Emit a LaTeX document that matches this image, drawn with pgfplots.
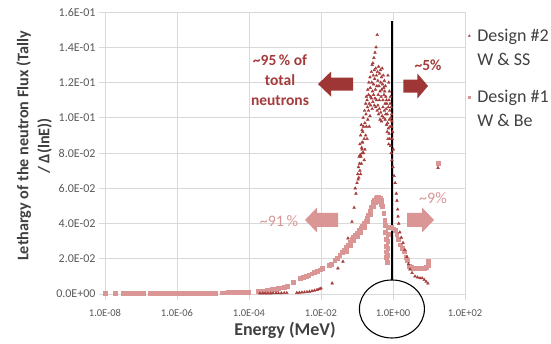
\documentclass[border=0pt]{standalone}
\usepackage{pgfplots}
\pgfplotsset{compat=1.18}
\usepackage{fontspec}
\setmainfont{Carlito}
\definecolor{dkred}{HTML}{A53B3B}
\definecolor{ltred}{HTML}{D99694}
\definecolor{dkarrow}{HTML}{9E3636}
\definecolor{gridc}{HTML}{D9D9D9}
\definecolor{tickc}{HTML}{595959}
\definecolor{labc}{HTML}{404040}
\begin{document}
\begin{tikzpicture}
\begin{axis}[
  at={(0,0)}, anchor=south west,
  scale only axis, width=360pt, height=282pt,
  xmin=-8, xmax=2, ymin=0, ymax=0.16,
  xtick={-8,-6,-4,-2,0,2},
  xticklabels={1.0E-08,1.0E-06,1.0E-04,1.0E-02,1.0E+00,1.0E+02},
  ytick={0,0.02,0.04,0.06,0.08,0.10,0.12,0.14,0.16},
  yticklabels={0.0E+00,2.0E-02,4.0E-02,6.0E-02,8.0E-02,1.0E-01,1.2E-01,1.4E-01,1.6E-01},
  grid=major, major grid style={gridc, line width=0.8pt},
  axis line style={gridc, line width=0.8pt},
  tick style={gridc, line width=0.8pt}, tick align=outside, major tick length=6pt,
  xtick pos=bottom, ytick pos=left,
  ticklabel style={text=tickc},
  xticklabel style={font=\fontsize{10.5}{12}\selectfont, yshift=-6pt},
  yticklabel style={font=\fontsize{12}{14}\selectfont},
  xlabel={Energy (MeV)},
  xlabel style={font=\bfseries\fontsize{18}{20}\selectfont, text=labc, at={(axis description cs:0.5,-0.128)}, anchor=center},
  ylabel={Lethargy of the neutron Flux (Tally\\/ Δ(lnE))},
  ylabel style={align=center, font=\bfseries\fontsize{16.2}{21}\selectfont, text=labc, at={(axis description cs:-0.197,0.525)}, anchor=center},
  clip=false,
  legend style={at={(axis description cs:1.0,0.955)}, anchor=north west, draw=none, fill=none,
    font=\fontsize{18}{21}\selectfont, text=labc, row sep=6pt, column sep=5pt},
  legend cell align=left,
  legend image code/.code={\draw[#1] plot coordinates {(0pt,0pt)};},
]
% Design #1 (W & Be)
\addplot[only marks, mark=square*, mark size=1.9pt, color=ltred, forget plot] coordinates {
(-8.0,0.0004) (-7.72,0.0004) (-7.5,0.0004) (-7.42,0.0004) (-7.34,0.0004) (-7.26,0.0004) (-7.18,0.0004) (-7.1,0.0004) (-7.02,0.0004) (-6.94,0.0004)
(-6.75,0.0004) (-6.67,0.0004) (-6.59,0.0004) (-6.51,0.0004) (-6.43,0.0004) (-6.35,0.0004) (-6.27,0.0004) (-6.19,0.0004) (-6.11,0.0004) (-6.03,0.0004) (-5.95,0.0004) (-5.87,0.0004) (-5.79,0.0004) (-5.71,0.0005) (-5.64,0.0005)
(-5.50,0.0005) (-5.42,0.0005) (-5.34,0.0005) (-5.26,0.0005) (-5.18,0.0005) (-5.10,0.0005) (-5.02,0.0005) (-4.94,0.0005)
(-4.75,0.0007) (-4.67,0.0007) (-4.59,0.0008) (-4.51,0.0008) (-4.43,0.0008) (-4.35,0.0009) (-4.27,0.0009) (-4.19,0.0010) (-4.11,0.0010) (-4.03,0.0011)
(-3.75,0.0015) (-3.67,0.0017) (-3.59,0.0019) (-3.51,0.0021) (-3.43,0.0023) (-3.35,0.0026) (-3.27,0.0029) (-3.19,0.0032) (-3.11,0.0036) (-3.03,0.0040) (-2.95,0.0045)
(-2.78,0.0065)
(-2.58,0.0089) (-2.50,0.0095) (-2.42,0.0100) (-2.34,0.0108) (-2.26,0.0115) (-2.18,0.0123) (-2.10,0.0130) (-2.02,0.0138) (-1.96,0.0145)
(-1.78,0.0162) (-1.72,0.0170)
(-1.62,0.0190) (-1.55,0.0205) (-1.48,0.0220) (-1.42,0.0235) (-1.36,0.0250) (-1.30,0.0265) (-1.25,0.0280) (-1.20,0.0295) (-1.15,0.0310) (-1.10,0.0322) (-1.05,0.0335) (-1.00,0.0345) (-0.95,0.0360) (-0.90,0.0372) (-0.85,0.0385) (-0.80,0.0400) (-0.76,0.0415) (-0.72,0.0430) (-0.68,0.0450) (-0.64,0.0470) (-0.60,0.0495) (-0.56,0.0520) (-0.52,0.0535) (-0.48,0.0545) (-0.44,0.0550) (-0.40,0.0548) (-0.36,0.0545) (-0.32,0.0530) (-0.29,0.0500) (-0.26,0.0460) (-0.23,0.0420)
(-1.30,0.0245) (-1.20,0.0275) (-1.10,0.0302) (-1.00,0.0325) (-0.90,0.0352) (-0.80,0.0380) (-0.72,0.0410) (-0.64,0.0450) (-0.56,0.0500) (-0.50,0.0520) (-0.44,0.0530) (-0.38,0.0528) (-0.32,0.0510)
(-0.21,0.0390) (-0.21,0.0350) (-0.20,0.0310) (-0.20,0.0270) (-0.19,0.0240) (-0.18,0.0210) (-0.17,0.0180) (-0.16,0.0220) (-0.15,0.0260) (-0.15,0.0300) (-0.14,0.0340) (-0.14,0.0380)
(-0.06,0.0380) (0.00,0.0370) (0.05,0.0360) (0.10,0.0340) (0.15,0.0310) (0.20,0.0280) (0.25,0.0260) (0.30,0.0240) (0.35,0.0210) (0.40,0.0190) (0.45,0.0160) (0.50,0.0150) (0.56,0.0148) (0.62,0.0148) (0.68,0.0148) (0.74,0.0148) (0.80,0.0148) (0.86,0.0148) (0.92,0.0150) (0.97,0.0165) (0.97,0.0185)
(1.25,0.0742)
};
% Design #2 (W & SS)
\addplot[only marks, mark=triangle*, mark size=1.6pt, color=dkred, forget plot] coordinates {
(-3.70,0.0004) (-3.62,0.0004) (-3.55,0.0004) (-3.48,0.0004) (-3.40,0.0004) (-3.33,0.0005) (-3.25,0.0005) (-3.18,0.0005) (-3.10,0.0005) (-3.02,0.0006) (-2.95,0.0006)
(-2.67,0.0007) (-2.60,0.0008) (-2.53,0.0009) (-2.46,0.0010) (-2.39,0.0012) (-2.32,0.0014) (-2.25,0.0017) (-2.18,0.0020) (-2.11,0.0024) (-2.05,0.0028) (-2.00,0.0032)
(-1.69,0.0061) (-1.53,0.0146) (-1.39,0.0184) (-1.25,0.0316) (-1.14,0.0410) (-1.08,0.0490) (-1.03,0.0570) (-0.97,0.0650) (-0.92,0.0700)
(-1.05,0.0600) (-1.00,0.0630) (-0.98,0.0680) (-0.95,0.0660) (-0.93,0.0740) (-0.91,0.0790) (-0.88,0.0740) (-0.86,0.0820)
(-0.96,0.0720) (-0.94,0.0780) (-0.92,0.0850) (-0.90,0.0900) (-0.88,0.0960) (-0.86,0.0930) (-0.84,0.0860) (-0.82,0.0800) (-0.80,0.0760) (-0.78,0.0820) (-0.76,0.0900) (-0.74,0.0950) (-0.72,0.0880) (-0.70,0.0990) (-0.68,0.1040) (-0.66,0.0950) (-0.64,0.1010) (-0.62,0.1070) (-0.60,0.1110) (-0.58,0.1050) (-0.56,0.1090) (-0.54,0.1130) (-0.52,0.1070) (-0.50,0.1110) (-0.48,0.1060) (-0.46,0.1100) (-0.44,0.1040) (-0.42,0.1070) (-0.40,0.1020) (-0.38,0.1050) (-0.36,0.0990) (-0.34,0.1030) (-0.32,0.0980) (-0.30,0.1010) (-0.28,0.1060) (-0.26,0.1000) (-0.24,0.1040) (-0.22,0.0990) (-0.20,0.1020) (-0.18,0.0960) (-0.16,0.0920) (-0.14,0.0880) (-0.12,0.0850)
(-0.90,0.0680) (-0.89,0.0780) (-0.87,0.0830) (-0.86,0.0860) (-0.85,0.0800) (-0.84,0.0920) (-0.83,0.1000) (-0.82,0.0950) (-0.80,0.0880) (-0.79,0.1040) (-0.78,0.0970) (-0.76,0.1080) (-0.75,0.1020) (-0.74,0.1120) (-0.72,0.1100) (-0.71,0.1060) (-0.70,0.1160) (-0.68,0.1130) (-0.67,0.1200) (-0.66,0.1080) (-0.64,0.1230) (-0.63,0.1170) (-0.62,0.1120) (-0.60,0.1260) (-0.59,0.1200) (-0.58,0.1300) (-0.57,0.1150) (-0.56,0.1310) (-0.55,0.1240) (-0.54,0.1190) (-0.53,0.1340) (-0.52,0.1270) (-0.51,0.1220) (-0.50,0.1370) (-0.49,0.1160) (-0.48,0.1280) (-0.47,0.1400) (-0.46,0.1240) (-0.45,0.1180) (-0.44,0.1470) (-0.43,0.1260) (-0.42,0.1210) (-0.41,0.1130) (-0.40,0.1290) (-0.39,0.1180) (-0.38,0.1100) (-0.37,0.1250) (-0.36,0.1150) (-0.35,0.1270) (-0.34,0.1200) (-0.33,0.1120) (-0.32,0.1230) (-0.31,0.1160) (-0.30,0.1280) (-0.29,0.1190) (-0.28,0.1100) (-0.27,0.1240) (-0.26,0.1170) (-0.25,0.1130) (-0.24,0.1210) (-0.23,0.1150) (-0.22,0.1080) (-0.21,0.1180) (-0.20,0.1120) (-0.19,0.1050) (-0.18,0.1100) (-0.17,0.1080) (-0.16,0.1020) (-0.15,0.0970) (-0.13,0.0940) (-0.11,0.0910) (-0.09,0.0880) (-0.07,0.0840) (-0.05,0.0800) (-0.03,0.0760)
(-0.12,0.1200) (-0.10,0.1150) (-0.08,0.1080) (-0.06,0.1000) (-0.04,0.0950) (-0.02,0.0880) (0.01,0.0820)
(-0.14,0.1240) (-0.11,0.1100) (-0.09,0.1040) (-0.07,0.1120) (-0.05,0.1060) (-0.04,0.1020) (-0.03,0.0980) (-0.01,0.0920) (-0.13,0.1060) (-0.10,0.0990) (-0.08,0.0950)
(0.00,0.0720) (0.03,0.0670) (0.06,0.0630) (0.09,0.0570) (0.11,0.0530) (0.13,0.0480) (0.14,0.0440) (0.16,0.0400) (0.19,0.0350) (0.23,0.0320) (0.28,0.0290) (0.33,0.0250) (0.39,0.0210) (0.43,0.0170) (0.47,0.0140) (0.53,0.0120) (0.61,0.0100) (0.68,0.0095) (0.75,0.0090) (0.81,0.0090) (0.87,0.0080) (0.92,0.0070) (0.97,0.0060)
(1.25,0.0716)
};
\addlegendimage{only marks, mark=triangle*, mark size=1.1pt, dkred}
\addlegendentry{Design \#2}
\addlegendimage{empty legend}
\addlegendentry{W \& SS}
\addlegendimage{empty legend}
\addlegendentry{\rule{0pt}{2pt}}
\addlegendimage{only marks, mark=square*, mark size=1.1pt, ltred}
\addlegendentry{Design \#1}
\addlegendimage{empty legend}
\addlegendentry{W \& Be}
% divider and circle
\draw[black, line width=1.6pt] (axis cs:-0.03,0.008) -- (axis cs:-0.03,0.155);
\draw[black, line width=1.1pt] (axis cs:-0.03,-0.0085) ellipse [x radius=32.5pt, y radius=29pt];
% arrows
\fill[dkarrow] (axis cs:-2.083,0.1191) -- ++(13pt,12.5pt) -- ++(0pt,-6pt) -- ++(22pt,0pt) -- ++(0pt,-13pt) -- ++(-22pt,0pt) -- ++(0pt,-6pt) -- cycle;
\fill[dkarrow] (axis cs:0.972,0.1180) -- ++(-10.6pt,12.5pt) -- ++(0pt,-6pt) -- ++(-14pt,0pt) -- ++(0pt,-13pt) -- ++(14pt,0pt) -- ++(0pt,-6pt) -- cycle;
\fill[ltred] (axis cs:-2.444,0.0420) -- ++(12pt,12.5pt) -- ++(0pt,-5.5pt) -- ++(21pt,0pt) -- ++(0pt,-14pt) -- ++(-21pt,0pt) -- ++(0pt,-5.5pt) -- cycle;
\fill[ltred] (axis cs:1.139,0.0420) -- ++(-12pt,12.5pt) -- ++(0pt,-5.5pt) -- ++(-15pt,0pt) -- ++(0pt,-14pt) -- ++(15pt,0pt) -- ++(0pt,-5.5pt) -- cycle;
% annotations
\node[align=center, text=dkred, font=\bfseries\fontsize{15.5}{20}\selectfont] at (axis cs:-3.139,0.1215) {\textasciitilde95\,\% of\\total\\neutrons};
\node[text=dkred, font=\bfseries\fontsize{15.5}{20}\selectfont] at (axis cs:0.972,0.1299) {\textasciitilde5\%};
\node[text=ltred, font=\fontsize{16}{20}\selectfont] at (axis cs:-3.167,0.0414) {\textasciitilde91\,\%};
\node[text=ltred, font=\fontsize{16}{20}\selectfont] at (axis cs:1.111,0.0544) {\textasciitilde9\%};
\end{axis}
\pgfresetboundingbox
\path (-105pt,-49pt) rectangle (446pt,294pt);
\end{tikzpicture}
\end{document}
